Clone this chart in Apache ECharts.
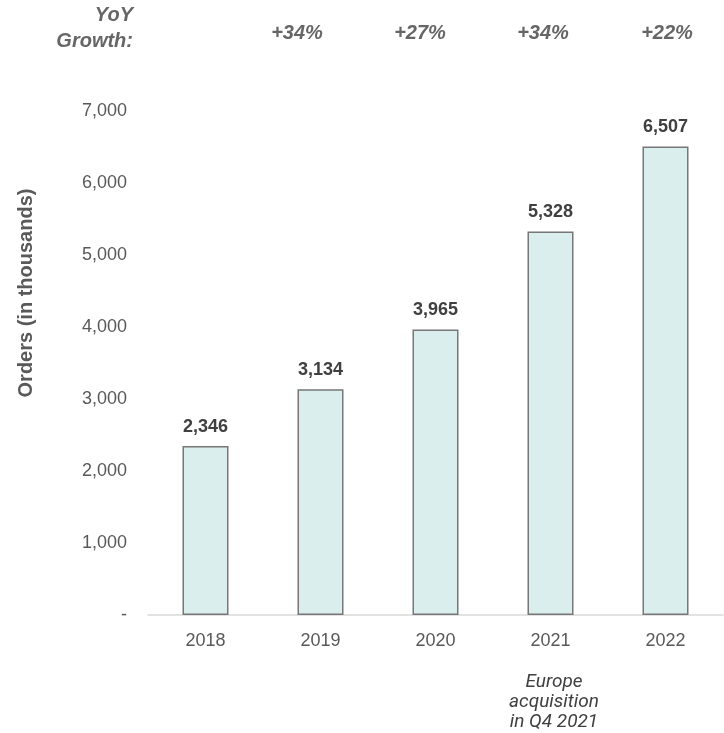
<!DOCTYPE html>
<html>
<head>
<meta charset="utf-8">
<style>
  html, body { margin: 0; padding: 0; background: #ffffff; }
  #chart { width: 724px; height: 733px; }
</style>
<script src="https://cdn.jsdelivr.net/npm/echarts@6/dist/echarts.min.js"></script>
</head>
<body>
<div id="chart"></div>
<script>
// Annual orders, thousands
const years = ['2018', '2019', '2020', '2021', '2022'];
const orders = [2346, 3134, 3965, 5328, 6507];
// Year-over-year growth shown above the plot
const growthLabels = ['+34%', '+27%', '+34%', '+22%'];
const growthX = [297, 420, 543, 667];
const yTicks = [0, 1000, 2000, 3000, 4000, 5000, 6000, 7000];
const noteLines = ['Europe', 'acquisition', 'in Q4 2021'];

const chart = echarts.init(document.getElementById('chart'), null, { renderer: 'canvas' });

const fmt = v => v === 0 ? '-' : v.toLocaleString('en-US');
const SANS = '"Liberation Sans", Arial, sans-serif';

const graphics = [
  { type: 'text', right: 724 - 133, top: 5,
    style: { text: 'YoY', font: 'italic bold 20px ' + SANS, fill: '#666666', textAlign: 'right' } },
  { type: 'text', right: 724 - 133, top: 31,
    style: { text: 'Growth:', font: 'italic bold 20px ' + SANS, fill: '#666666', textAlign: 'right' } },
  { type: 'text', x: 26, y: 293, rotation: Math.PI / 2,
    style: { text: 'Orders (in thousands)', font: 'bold 20px ' + SANS, fill: '#595959',
             textAlign: 'center', textVerticalAlign: 'middle' } }
];
growthLabels.forEach((t, i) => {
  graphics.push({ type: 'text', x: growthX[i], y: 33,
    style: { text: t, font: 'italic bold 20px ' + SANS, fill: '#666666',
             textAlign: 'center', textVerticalAlign: 'middle' } });
});
noteLines.forEach((t, i) => {
  graphics.push({ type: 'text', x: 554, y: 682 + i * 20,
    style: { text: t, font: 'italic 19px Roboto, ' + SANS, fill: '#404040',
             textAlign: 'center', textVerticalAlign: 'middle' } });
});

chart.setOption({
  animation: false,
  grid: { left: 148, right: 1, top: 111, bottom: 118, containLabel: false },
  xAxis: {
    type: 'category',
    data: years,
    axisLine: { show: true, lineStyle: { color: '#d9d9d9', width: 1.5 } },
    axisTick: { show: false },
    axisLabel: { color: '#595959', fontSize: 18, margin: 17, fontFamily: SANS }
  },
  yAxis: {
    type: 'value',
    min: yTicks[0],
    max: yTicks[yTicks.length - 1],
    interval: 1000,
    axisLine: { show: false },
    axisTick: { show: false },
    splitLine: { show: false },
    axisLabel: { color: '#595959', fontSize: 18, margin: 21, fontFamily: SANS, formatter: fmt }
  },
  series: [{
    type: 'bar',
    data: orders,
    barWidth: '40%',
    itemStyle: { color: '#daeeee', borderColor: '#777777', borderWidth: 1.5 },
    label: {
      show: true, position: 'top', distance: 10,
      color: '#404040', fontWeight: 'bold', fontSize: 18, fontFamily: SANS,
      formatter: p => fmt(p.value)
    }
  }],
  graphic: graphics
});
</script>
</body>
</html>
